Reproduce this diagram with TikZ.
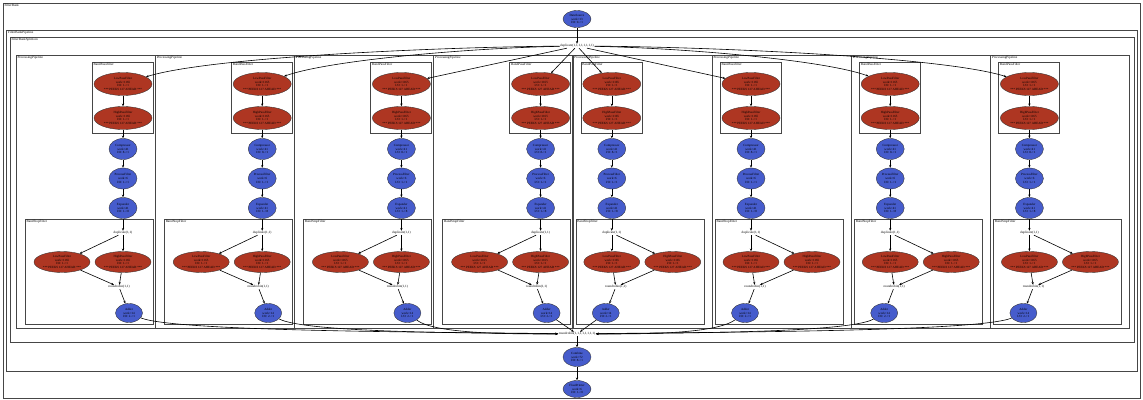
\documentclass[tikz,border=0pt]{standalone}
\usepackage{fontspec}
\setmainfont{Liberation Serif}
\usetikzlibrary{shapes.geometric,arrows.meta}
\definecolor{hot}{RGB}{174,54,34}
\definecolor{cool}{RGB}{70,92,204}
\definecolor{frame}{RGB}{70,70,70}
\begin{document}
\begin{tikzpicture}[x=1mm,y=-1mm,
  cluster/.style={draw=frame,line width=0.6mm},
  clabel/.style={anchor=north west,inner sep=0pt,font=\fontsize{9.5}{11}\selectfont},
  heavy/.style={ellipse,draw=black!80,line width=0.35mm,fill=hot,minimum width=58mm,minimum height=23mm,inner sep=0pt,align=center,font=\fontsize{9}{10.5}\selectfont},
  light/.style={ellipse,draw=black!80,line width=0.35mm,fill=cool,minimum width=28mm,minimum height=21mm,inner sep=0pt,align=center,font=\fontsize{9}{10.5}\selectfont},
  router/.style={inner sep=0.6mm,font=\fontsize{9.5}{11}\selectfont},
  edge/.style={draw=black,line width=0.6mm,-{Stealth[length=2.8mm,width=2.2mm]}}]
\useasboundingbox (0,0) rectangle (1143,400);
\fill[white] (0,0) rectangle (1143,400);

% nested stream clusters
\draw[cluster] (3,3) rectangle (1140,398);
\node[clabel] at (4.5,4.5) {FilterBank};
\draw[cluster] (6.5,30) rectangle (1137,371);
\node[clabel] at (8,31.5) {FilterBankPipeline};
\draw[cluster] (10,37) rectangle (1134,342);
\node[clabel] at (11.5,38.5) {FilterBankSplitJoin};

% source, outer splitter / joiner, sink
\node[light,minimum height=17mm] (src) at (577,19) {DataSource\\work=13\\I/O: 0->1};
\node[router] (dup) at (577,46) {duplicate(1,1,1,1,1,1,1,1)};
\node[router] (rr) at (577,334) {roundrobin(1,1,1,1,1,1,1,1)};
\node[light,minimum height=19mm] (comb) at (577,357) {Combine\\work=72\\I/O: 8->1};
\node[light,minimum height=17mm] (sink) at (577,389) {FloatPrinter\\work=6\\I/O: 1->0};

% the eight processing pipelines
\foreach \i in {0,...,7}{
  \pgfmathsetmacro{\Xo}{16+139.2*\i}
  \pgfmathsetmacro{\Sd}{\i<4 ? 1 : -1}
  \pgfmathsetmacro{\Mx}{\Xo+73+34*\Sd}
  \pgfmathsetmacro{\Lx}{\Mx-30.5*(1+\Sd)}
  \pgfmathsetmacro{\Hx}{\Mx+30.5*(1-\Sd)}
  \pgfmathsetmacro{\Bl}{\Xo+6+3*\Sd}
  \pgfmathsetmacro{\Br}{\Xo+134+3*\Sd}
  \pgfmathsetmacro{\Jx}{\Mx-4*\Sd}
  \pgfmathsetmacro{\Ax}{\Mx+6*\Sd}
  \draw[cluster] (\Xo,55) rectangle (\Xo+139,328);
  \node[clabel] at (\Xo+1.5,56.5) {ProcessingPipeline};
  \draw[cluster] (\Mx-31,62) rectangle (\Mx+30,133);
  \node[clabel] at (\Mx-29.5,63.5) {BandPassFilter};
  \draw[cluster] (\Bl,219) rectangle (\Br,324);
  \node[clabel] at (\Bl+1.5,220.5) {BandStopFilter};

  \node[heavy] (bpl\i) at (\Mx,84) {LowPassFilter\\work=1165\\I/O: 1->1\\*** PEEKS 127 AHEAD ***};
  \node[heavy] (bph\i) at (\Mx,118) {HighPassFilter\\work=1165\\I/O: 1->1\\*** PEEKS 127 AHEAD ***};
  \node[light] (cmp\i) at (\Mx,149) {Compressor\\work=41\\I/O: 8->1};
  \node[light] (prc\i) at (\Mx,178.5) {ProcessFilter\\work=6\\I/O: 1->1};
  \node[light] (exp\i) at (\Mx,208) {Expander\\work=41\\I/O: 1->8};
  \node[router] (spl\i) at (\Mx,233) {duplicate(1,1)};
  \node[heavy,minimum width=56mm,minimum height=21mm] (bsl\i) at (\Lx,262) {LowPassFilter\\work=1165\\I/O: 1->1\\*** PEEKS 127 AHEAD ***};
  \node[heavy,minimum width=56mm,minimum height=21mm] (bsh\i) at (\Hx,262) {HighPassFilter\\work=1165\\I/O: 1->1\\*** PEEKS 127 AHEAD ***};
  \node[router] (jn\i) at (\Jx,287) {roundrobin(1,1)};
  \node[light,minimum width=27mm,minimum height=19mm] (add\i) at (\Ax,313) {Adder\\work=14\\I/O: 2->1};

  \draw[edge] (bpl\i) -- (bph\i);
  \draw[edge] (bph\i) -- (cmp\i);
  \draw[edge] (cmp\i) -- (prc\i);
  \draw[edge] (prc\i) -- (exp\i);
  \draw[edge] (exp\i) -- (spl\i);
  \draw[edge] (spl\i) -- (bsl\i);
  \draw[edge] (spl\i) -- (bsh\i);
  \draw[edge] (bsl\i) -- (jn\i);
  \draw[edge] (bsh\i) -- (jn\i);
  \draw[edge] (jn\i) -- (add\i);
}

% fan-out from the outer splitter
\foreach \i/\a/\b/\c/\d in {0/440/47/210/57, 1/470/48/330/60, 6/684/48/824/60, 7/714/47/944/57}
  \draw[edge] (dup) .. controls (\a,\b) and (\c,\d) .. (bpl\i);
\foreach \i in {2,...,5}
  \draw[edge] (dup) -- (bpl\i);

% fan-in to the outer joiner
\foreach \i/\a/\b/\c/\d in {0/175/332/450/332, 1/305/333/480/333, 2/435/334/510/334, 5/715/334/645/334, 6/849/333/675/333, 7/979/332/705/332}
  \draw[edge] (add\i) .. controls (\a,\b) and (\c,\d) .. (rr);
\foreach \i in {3,4}
  \draw[edge] (add\i) -- (rr);

\draw[edge] (src) -- (dup);
\draw[edge] (rr) -- (comb);
\draw[edge] (comb) -- (sink);
\end{tikzpicture}
\end{document}
